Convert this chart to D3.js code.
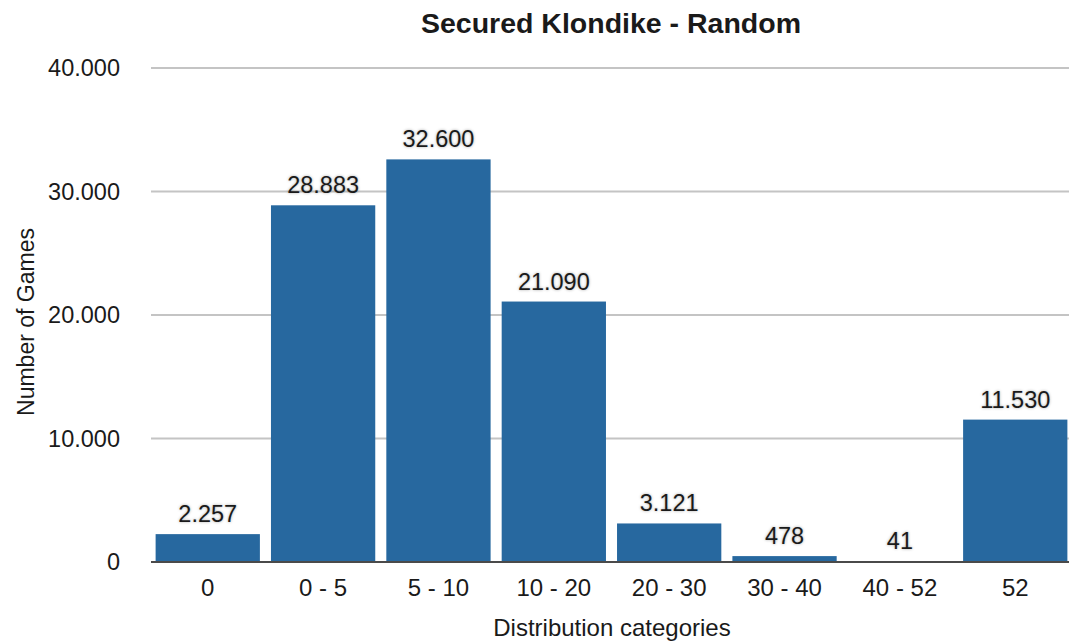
<!DOCTYPE html>
<html>
<head>
<meta charset="utf-8">
<script src="https://cdn.jsdelivr.net/npm/d3@7"></script>
<style>
  body { margin: 0; background: #fff; }
  svg text { font-family: "Liberation Sans", Arial, sans-serif; fill: #1a1a1a; }
  .vlabel { text-shadow: 0 0 3px rgba(0,0,0,0.35); }
</style>
</head>
<body>
<svg id="chart" width="1069" height="643"></svg>
<script>
var categories = ["0", "0 - 5", "5 - 10", "10 - 20", "20 - 30", "30 - 40", "40 - 52", "52"];
var games = [2257, 28883, 32600, 21090, 3121, 478, 41, 11530];
var yTicks = [0, 10000, 20000, 30000, 40000];

var svg = d3.select("#chart");
var plotLeft = 151, plotRight = 1072, plotTop = 68, plotBottom = 562;

var loc = d3.formatLocale({decimal: ",", thousands: ".", grouping: [3], currency: ["", ""]});
var fmt = loc.format(",d");

var x = d3.scaleBand()
    .domain(categories)
    .range([plotLeft, plotRight])
    .paddingInner(0.096)
    .paddingOuter(0.04);

var y = d3.scaleLinear()
    .domain([0, 40000])
    .range([plotBottom, plotTop]);

// gridlines
svg.append("g")
  .selectAll("line")
  .data(yTicks.filter(function(d) { return d > 0; }))
  .enter().append("line")
    .attr("x1", plotLeft).attr("x2", 1069)
    .attr("y1", function(d) { return y(d); })
    .attr("y2", function(d) { return y(d); })
    .attr("stroke", "#c4c4c4")
    .attr("stroke-width", 2);

// bars
svg.append("g")
  .selectAll("rect")
  .data(games)
  .enter().append("rect")
    .attr("x", function(d, i) { return x(categories[i]); })
    .attr("width", x.bandwidth())
    .attr("y", function(d) { return y(d); })
    .attr("height", function(d) { return plotBottom - y(d); })
    .attr("fill", "#27689f");

// baseline
svg.append("line")
  .attr("x1", plotLeft).attr("x2", 1069)
  .attr("y1", plotBottom).attr("y2", plotBottom)
  .attr("stroke", "#4a4a4a")
  .attr("stroke-width", 2);

// value labels
svg.append("g")
  .selectAll("text")
  .data(games)
  .enter().append("text")
    .attr("class", "vlabel")
    .attr("x", function(d, i) { return x(categories[i]) + x.bandwidth() / 2; })
    .attr("y", function(d) { return y(d) - 12; })
    .attr("text-anchor", "middle")
    .style("font-size", "23.5px")
    .text(function(d) { return fmt(d); });

// y tick labels
svg.append("g")
  .selectAll("text")
  .data(yTicks)
  .enter().append("text")
    .attr("x", 120)
    .attr("y", function(d) { return y(d); })
    .attr("dy", "0.36em")
    .attr("text-anchor", "end")
    .style("font-size", "23.5px")
    .text(function(d) { return fmt(d); });

// x tick labels
svg.append("g")
  .selectAll("text")
  .data(categories)
  .enter().append("text")
    .attr("x", function(d) { return x(d) + x.bandwidth() / 2; })
    .attr("y", 596)
    .attr("text-anchor", "middle")
    .style("font-size", "24px")
    .text(function(d) { return d; });

// titles
svg.append("text")
  .attr("x", 611).attr("y", 33)
  .attr("text-anchor", "middle")
  .style("font-size", "28.5px")
  .style("font-weight", "bold")
  .text("Secured Klondike - Random");

svg.append("text")
  .attr("x", 612).attr("y", 636)
  .attr("text-anchor", "middle")
  .style("font-size", "24px")
  .text("Distribution categories");

svg.append("text")
  .attr("transform", "translate(34,322) rotate(-90)")
  .attr("text-anchor", "middle")
  .style("font-size", "23px")
  .text("Number of Games");
</script>
</body>
</html>
